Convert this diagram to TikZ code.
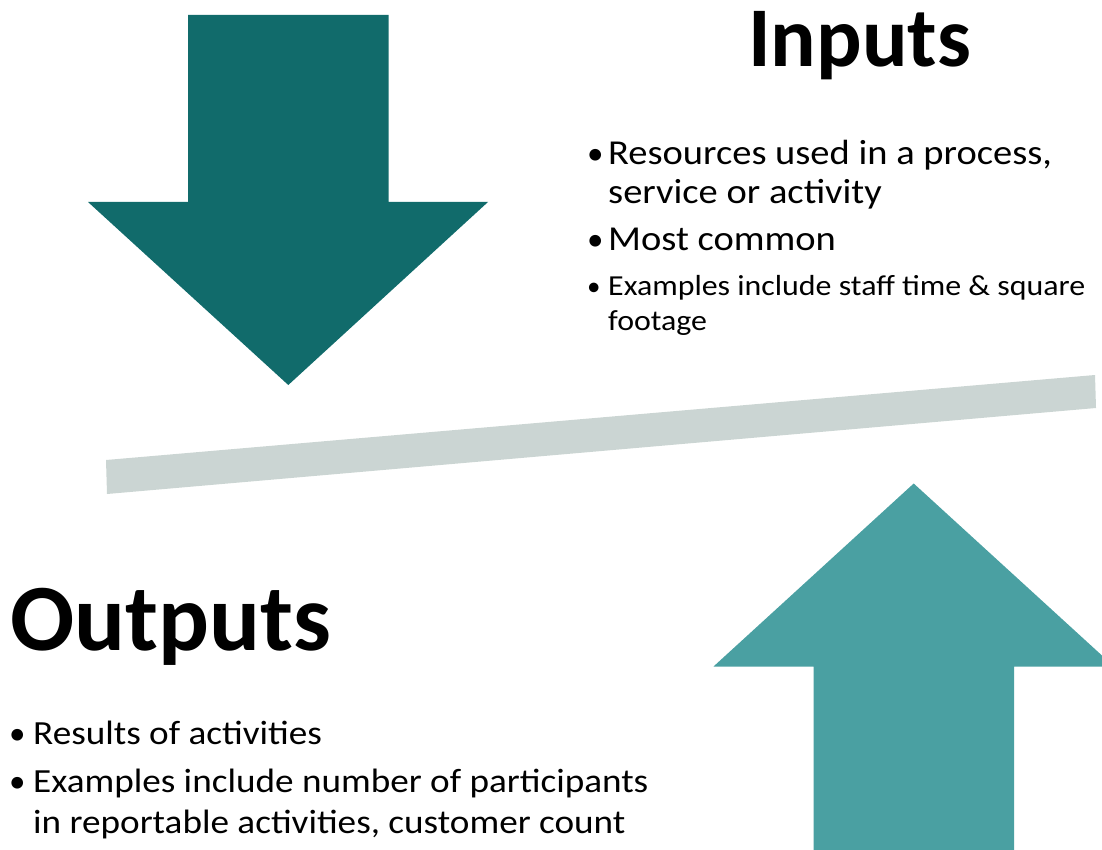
\documentclass[tikz,border=0pt]{standalone}
\usepackage{fontspec}
\setmainfont{Carlito}
\newfontfamily\bodyfont[FakeStretch=1.1]{Carlito}
\definecolor{darkteal}{HTML}{116B6B}
\definecolor{lightteal}{HTML}{4AA0A2}
\definecolor{bargray}{HTML}{CBD5D3}
\begin{document}
\begin{tikzpicture}[x=1pt,y=-1pt,
  titletxt/.style={font=\bfseries\fontsize{85}{100}\selectfont, inner sep=0, anchor=base west},
  bigtitle/.style={font=\bfseries\fontsize{95}{110}\selectfont, inner sep=0, anchor=base west},
  bigtxt/.style={font=\bodyfont\fontsize{35}{40}\selectfont, inner sep=0, anchor=base west},
  outtxt/.style={font=\bodyfont\fontsize{33.8}{40}\selectfont, inner sep=0, anchor=base west},
  smalltxt/.style={font=\bodyfont\fontsize{29}{32}\selectfont, inner sep=0, anchor=base west},
  bul/.style={font=\fontsize{33}{40}\selectfont, inner sep=0, anchor=base west},
  smallbul/.style={font=\fontsize{27}{32}\selectfont, inner sep=0, anchor=base west}]
\useasboundingbox (0,0) rectangle (1102,850);
\clip (0,0) rectangle (1102,850);
% arrows and bar
\fill[darkteal] (188,15) -- (388.5,15) -- (388.5,202) -- (488,202) -- (288.3,385) -- (88,202) -- (188,202) -- cycle;
\fill[lightteal] (813.5,860) -- (813.5,666.5) -- (713.5,666.5) -- (913.7,483.5) -- (1114,666.5) -- (1014,666.5) -- (1014,860) -- cycle;
\fill[bargray] (106,460) -- (1095,375) -- (1096,408) -- (107,494) -- cycle;
% Inputs
\node[titletxt] (intitle) at (748,66.7) {Inputs};
\node[bul] (ib1) at (587,165) {•};
\node[bigtxt] (i1a) at (608,165) {Resources used in a process,};
\node[bigtxt] (i1b) at (608,204) {service or activity};
\node[bul] (ib2) at (587,251) {•};
\node[bigtxt] (i2) at (608,251) {Most common};
\node[smallbul] (ib3) at (587,295) {•};
\node[smalltxt] (i3a) at (608,295) {Examples include staff time \& square};
\node[smalltxt] (i3b) at (608,330) {footage};
% Outputs
\node[bigtitle] (outtitle) at (10,650) {Outputs};
\node[bul] (ob1) at (9,744) {•};
\node[outtxt] (o1) at (33,744) {Results of activities};
\node[bul] (ob2) at (9,792) {•};
\node[outtxt] (o2a) at (33,792) {Examples include number of participants};
\node[outtxt] (o2b) at (33,833) {in reportable activities, customer count};
\end{tikzpicture}
\end{document}
